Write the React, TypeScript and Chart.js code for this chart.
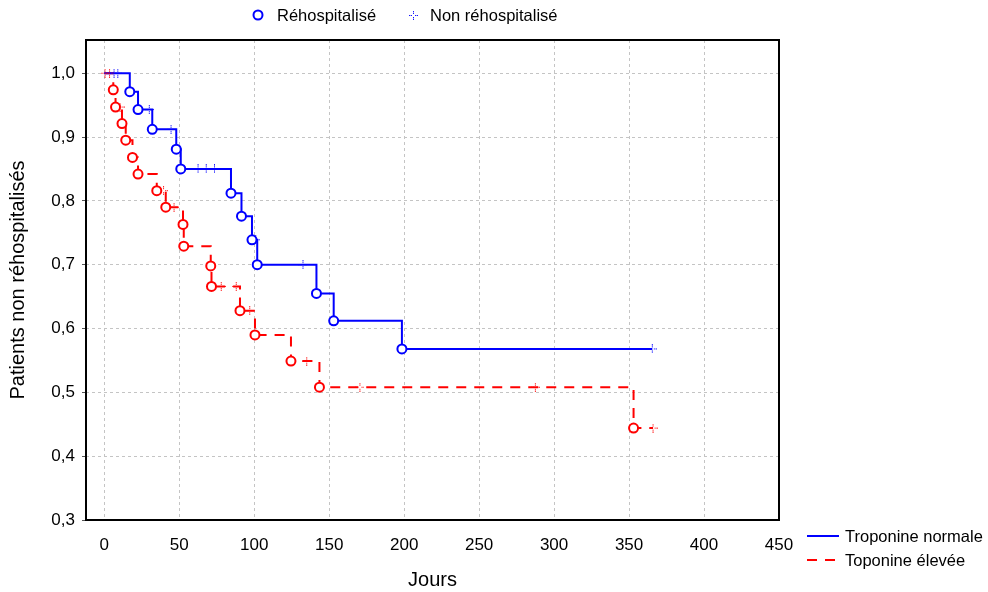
import React, { useEffect, useRef } from "react";
import { Chart, registerables } from "chart.js";

Chart.register(...registerables);

// ---- Data ----
const xTickValues = [0, 50, 100, 150, 200, 250, 300, 350, 400, 450];
const yTickValues = [0.3, 0.4, 0.5, 0.6, 0.7, 0.8, 0.9, 1.0];

// Troponine normale (blue)
const blueEventDays = [17, 22.5, 32, 48, 51, 84.5, 91.5, 98.5, 102, 141.5, 153, 198.5];
const blueEventSurv = [0.971, 0.943, 0.912, 0.881, 0.85, 0.812, 0.776, 0.739, 0.7, 0.655, 0.612, 0.568];
const blueCensorDays = [6.5, 9, 30, 44.5, 62.5, 68, 73.5, 101, 132.5, 365.5];
const blueCensorSurv = [1, 1, 0.943, 0.912, 0.85, 0.85, 0.85, 0.739, 0.7, 0.568];
const blueEndDay = 365.5;

// Toponine élevée (red)
const redEventDays = [6, 7.5, 11.8, 14.3, 18.8, 22.5, 35, 41, 52.5, 53, 71, 71.5, 90.5, 100.5, 124.5, 143.5, 353];
const redEventSurv = [0.974, 0.947, 0.921, 0.895, 0.868, 0.842, 0.816, 0.79, 0.763, 0.729, 0.698, 0.666, 0.628, 0.59, 0.549, 0.508, 0.444];
const redCensorDays = [0.5, 3.5, 10.5, 39.5, 46.5, 78, 88, 97, 135, 170.5, 287.5, 366];
const redCensorSurv = [1, 1, 0.947, 0.816, 0.79, 0.666, 0.666, 0.628, 0.549, 0.508, 0.508, 0.444];
const redEndDay = 366;

const BLUE = "#0000ff";
const RED = "#ff0000";
const FONT = "'Liberation Sans', Arial, sans-serif";

function makeCensorGlyph(color: string): HTMLCanvasElement {
  const c = document.createElement("canvas");
  c.width = 9;
  c.height = 9;
  const g = c.getContext("2d")!;
  g.fillStyle = color;
  g.globalAlpha = 0.9;
  const pts = [
    [4, 0], [4, 2], [4, 6], [4, 8],
    [0, 4], [2, 4], [6, 4], [8, 4],
  ];
  for (const [px, py] of pts) g.fillRect(px, py, 1, 1);
  g.globalAlpha = 0.35;
  const soft = [[4, 1], [4, 7], [1, 4], [7, 4]];
  for (const [px, py] of soft) g.fillRect(px, py, 1, 1);
  return c;
}

function steps(days: number[], surv: number[], endDay: number) {
  const pts = [{ x: 0, y: 1 }];
  days.forEach((d, i) => pts.push({ x: d, y: surv[i] }));
  pts.push({ x: endDay, y: surv[surv.length - 1] });
  return pts;
}

function pairs(days: number[], surv: number[]) {
  return days.map((d, i) => ({ x: d, y: surv[i] }));
}

export default function App() {
  const ref = useRef<HTMLCanvasElement | null>(null);

  useEffect(() => {
    if (!ref.current) return;
    const blueGlyph = makeCensorGlyph(BLUE);
    const redGlyph = makeCensorGlyph(RED);

    const overlay = {
      id: "overlay",
      afterDraw(chart: any) {
        const ctx = chart.ctx as CanvasRenderingContext2D;
        const a = chart.chartArea;
        ctx.save();
        // frame
        ctx.strokeStyle = "#000";
        ctx.lineWidth = 2;
        ctx.setLineDash([]);
        ctx.strokeRect(a.left, a.top, a.right - a.left, a.bottom - a.top);

        // top legend
        ctx.font = `16.5px ${FONT}`;
        ctx.textBaseline = "middle";
        ctx.textAlign = "left";
        ctx.beginPath();
        ctx.arc(258, 15, 4.5, 0, Math.PI * 2);
        ctx.fillStyle = "#fff";
        ctx.fill();
        ctx.strokeStyle = BLUE;
        ctx.lineWidth = 2;
        ctx.stroke();
        ctx.fillStyle = "#000";
        ctx.fillText("Réhospitalisé", 277, 16);
        ctx.drawImage(blueGlyph, 409, 11);
        ctx.fillText("Non réhospitalisé", 430, 16);

        // bottom-right legend
        ctx.lineWidth = 2;
        ctx.strokeStyle = BLUE;
        ctx.beginPath();
        ctx.moveTo(807, 536);
        ctx.lineTo(839, 536);
        ctx.stroke();
        ctx.strokeStyle = RED;
        ctx.setLineDash([10, 8]);
        ctx.beginPath();
        ctx.moveTo(807, 560);
        ctx.lineTo(839, 560);
        ctx.stroke();
        ctx.setLineDash([]);
        ctx.fillText("Troponine normale", 845, 537);
        ctx.fillText("Toponine élevée", 845, 561);
        ctx.restore();
      },
    };

    const chart = new Chart(ref.current, {
      type: "scatter",
      data: {
        datasets: [
          {
            label: "Réhospitalisé (normale)",
            data: pairs(blueEventDays, blueEventSurv),
            pointStyle: "circle",
            pointRadius: 4.5,
            pointBorderWidth: 2,
            pointBackgroundColor: "#fff",
            pointBorderColor: BLUE,
            showLine: false,
          },
          {
            label: "Réhospitalisé (élevée)",
            data: pairs(redEventDays, redEventSurv),
            pointStyle: "circle",
            pointRadius: 4.5,
            pointBorderWidth: 2,
            pointBackgroundColor: "#fff",
            pointBorderColor: RED,
            showLine: false,
          },
          {
            label: "Non réhospitalisé (normale)",
            data: pairs(blueCensorDays, blueCensorSurv),
            pointStyle: blueGlyph as any,
            pointRadius: 4,
            showLine: false,
          },
          {
            label: "Non réhospitalisé (élevée)",
            data: pairs(redCensorDays, redCensorSurv),
            pointStyle: redGlyph as any,
            pointRadius: 4,
            showLine: false,
          },
          {
            label: "Troponine normale",
            data: steps(blueEventDays, blueEventSurv, blueEndDay),
            showLine: true,
            stepped: true,
            borderColor: BLUE,
            borderWidth: 2,
            pointRadius: 0,
          } as any,
          {
            label: "Toponine élevée",
            data: steps(redEventDays, redEventSurv, redEndDay),
            showLine: true,
            stepped: true,
            borderColor: RED,
            borderWidth: 2,
            borderDash: [10, 8],
            pointRadius: 0,
          } as any,
        ],
      },
      options: {
        animation: false,
        responsive: false,
        events: [],
        layout: { padding: { top: 40, right: 209, left: 0, bottom: 0 } },
        plugins: {
          legend: { display: false },
          tooltip: { enabled: false },
        },
        scales: {
          x: {
            type: "linear",
            min: -12.2,
            max: 450,
            afterBuildTicks: (s: any) => {
              s.ticks = xTickValues.map((v) => ({ value: v }));
            },
            afterFit: (s: any) => {
              s.height = 72;
            },
            border: { display: false, dash: [3, 3] },
            grid: {
              color: "#c4c4c4",
              lineWidth: 1,
              tickLength: 0,
              drawTicks: false,
            } as any,
            ticks: {
              color: "#000",
              font: { family: FONT, size: 17 },
              padding: 15,
              maxRotation: 0,
              autoSkip: false,
            },
            title: {
              display: true,
              text: "Jours",
              color: "#000",
              font: { family: FONT, size: 20 },
              padding: { top: 0, bottom: 0 },
            },
          },
          y: {
            type: "linear",
            min: 0.3,
            max: 1.052,
            afterBuildTicks: (s: any) => {
              s.ticks = yTickValues.map((v) => ({ value: v }));
            },
            afterFit: (s: any) => {
              s.width = 86;
            },
            border: { display: false, dash: [3, 3] },
            grid: {
              color: "#c4c4c4",
              lineWidth: 1,
              tickLength: 4,
              tickColor: "#555",
              tickBorderDash: [],
            } as any,
            ticks: {
              color: "#000",
              font: { family: FONT, size: 17 },
              padding: 7,
              autoSkip: false,
              callback: (v: any) => Number(v).toFixed(1).replace(".", ","),
            },
            title: {
              display: true,
              text: "Patients non réhospitalisés",
              color: "#000",
              font: { family: FONT, size: 20 },
              padding: { top: 6, bottom: 0 },
            },
          },
        },
      },
      plugins: [overlay],
    } as any);

    return () => chart.destroy();
  }, []);

  return (
    <div
      style={{
        position: "fixed",
        left: 0,
        top: 0,
        width: 988,
        height: 592,
        background: "#fff",
      }}
    >
      <canvas ref={ref} width={988} height={592} style={{ width: 988, height: 592 }} />
    </div>
  );
}
